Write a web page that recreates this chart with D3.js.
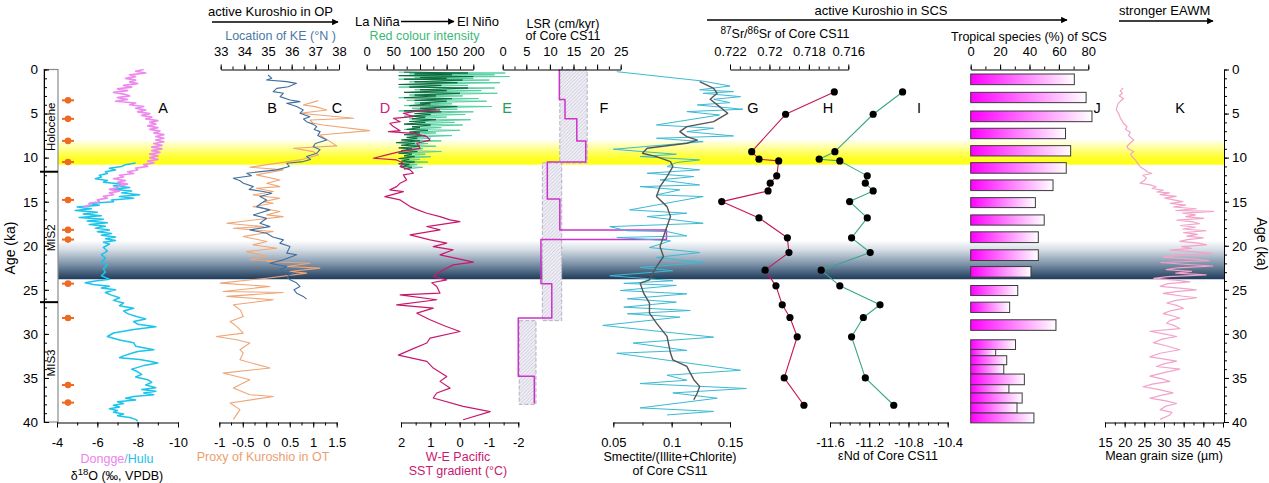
<!DOCTYPE html>
<html>
<head>
<meta charset="utf-8">
<script src="https://cdn.jsdelivr.net/npm/d3@7"></script>
<style>
  body { margin: 0; background: #fff; }
  svg text { font-family: Arial, "Liberation Sans", sans-serif; }
</style>
</head>
<body>
<svg id="chart" width="1269" height="483"></svg>
<script>
// ---- data (age in ka, value) ----
const yellowBand = [8.0, 10.8];
const lgmBand = [19.4, 23.8];
const stageBounds = [11.6, 26.4];
const stageNames = ["Holocene", "MIS2", "MIS3"];
const stageMid = [6.5, 19.1, 33.3];
const datingAges = [3.5, 5.6, 8.1, 10.5, 14.8, 18.2, 19.3, 24.3, 28.2, 35.8, 37.8];

// A: speleothem d18O
const dongge = [[0.0,-8.3],[0.2,-7.9],[0.4,-8.4],[0.6,-7.6],[0.8,-7.9],[1.0,-7.4],[1.2,-7.9],[1.4,-7.6],[1.6,-8.0],[1.8,-7.3],[2.0,-7.7],[2.2,-7.0],[2.4,-7.5],[2.6,-6.8],[2.8,-7.3],[3.0,-7.6],[3.2,-7.0],[3.4,-7.5],[3.6,-6.9],[3.8,-7.9],[4.0,-7.6],[4.2,-8.3],[4.4,-7.9],[4.6,-8.4],[4.8,-8.0],[5.0,-8.6],[5.2,-8.2],[5.4,-8.7],[5.6,-8.4],[5.8,-9.0],[6.0,-8.6],[6.2,-8.9],[6.4,-8.5],[6.6,-9.0],[6.8,-8.6],[7.0,-9.1],[7.2,-8.8],[7.4,-9.3],[7.6,-8.9],[7.8,-9.3],[8.0,-8.9],[8.2,-9.3],[8.4,-8.8],[8.6,-9.2],[8.8,-8.7],[9.0,-9.2],[9.2,-8.7],[9.4,-9.1],[9.6,-8.6],[9.8,-9.0],[10.0,-8.6],[10.2,-9.0],[10.4,-8.5],[10.6,-8.8],[10.8,-8.3],[11.0,-8.5],[11.2,-7.9],[11.4,-8.0],[11.6,-7.5],[11.8,-7.8],[12.0,-7.1],[12.2,-7.3],[12.4,-6.8],[12.6,-7.4],[12.8,-7.0],[13.0,-7.5],[13.2,-7.1],[13.4,-7.0],[13.6,-6.6],[13.8,-7.1],[14.0,-6.6],[14.2,-6.8],[14.4,-6.3],[14.6,-6.5],[14.8,-6.0],[15.0,-6.1],[15.2,-5.6],[15.4,-5.6],[15.6,-5.3]];
const hulu = [[10.6,-7.9],[10.8,-7.4],[11.0,-7.2],[11.2,-6.6],[11.4,-6.9],[11.6,-6.4],[11.8,-6.5],[12.0,-6.1],[12.2,-6.2],[12.4,-5.9],[12.6,-6.5],[12.8,-6.3],[13.0,-7.2],[13.2,-6.8],[13.4,-7.6],[13.6,-6.8],[13.8,-7.7],[14.0,-7.2],[14.2,-8.1],[14.4,-7.1],[14.6,-7.8],[14.8,-6.7],[15.0,-6.8],[15.2,-5.6],[15.4,-6.1],[15.6,-5.0],[15.8,-5.7],[16.0,-4.9],[16.2,-6.0],[16.4,-5.3],[16.6,-6.2],[16.8,-5.1],[17.0,-6.3],[17.2,-5.5],[17.4,-6.5],[17.6,-5.6],[17.8,-6.4],[18.0,-5.9],[18.2,-6.6],[18.4,-6.0],[18.6,-6.7],[18.8,-6.2],[19.0,-6.9],[19.2,-6.4],[19.4,-6.9],[19.6,-6.3],[19.8,-6.6],[20.2,-6.3],[20.6,-6.5],[21.0,-6.2],[21.4,-6.4],[21.8,-6.2],[22.2,-6.5],[22.6,-6.3],[23.0,-6.4],[23.4,-6.2],[23.8,-6.6],[24.0,-5.9],[24.2,-5.4],[24.4,-5.8],[24.6,-6.6],[24.8,-6.2],[25.0,-6.9],[25.3,-6.4],[25.6,-6.7],[25.9,-7.1],[26.2,-6.8],[26.5,-7.3],[26.8,-7.1],[27.1,-7.8],[27.4,-7.3],[27.7,-7.5],[28.0,-7.9],[28.3,-8.4],[28.6,-7.8],[28.9,-8.0],[29.2,-8.9],[29.5,-7.8],[29.9,-6.8],[30.3,-6.5],[30.7,-7.1],[31.0,-7.8],[31.4,-7.9],[31.8,-8.8],[32.0,-8.0],[32.2,-7.7],[32.5,-7.3],[32.7,-7.1],[32.9,-8.1],[33.1,-8.6],[33.3,-9.0],[33.6,-8.3],[34.0,-7.7],[34.3,-8.0],[34.6,-8.2],[34.9,-7.9],[35.2,-8.5],[35.5,-8.7],[35.8,-8.4],[36.1,-8.9],[36.3,-8.2],[36.5,-8.9],[36.7,-8.3],[36.9,-8.8],[37.1,-7.8],[37.3,-7.4],[37.5,-7.9],[37.7,-7.0],[37.9,-7.3],[38.1,-6.8],[38.3,-7.1],[38.5,-6.6],[38.7,-7.0],[38.9,-6.8],[39.1,-7.3],[39.3,-7.0],[39.5,-7.6],[39.7,-7.9],[39.9,-8.0]];

// B: Kuroshio Extension latitude (deg N)
const keLat = [[0.62,35.0],[1.0,35.16],[1.19,34.94],[1.38,35.79],[1.57,36.2],[1.95,35.86],[2.14,35.37],[2.51,35.22],[2.7,35.65],[3.08,35.51],[3.46,35.93],[3.65,36.35],[3.84,35.79],[4.21,36.21],[4.59,36.49],[4.97,36.35],[5.35,36.77],[5.62,36.5],[5.92,36.63],[6.2,36.9],[6.48,37.06],[6.8,36.95],[7.05,37.2],[7.5,37.1],[8.01,37.48],[8.4,37.0],[8.75,36.91],[9.1,37.2],[9.5,37.06],[9.88,36.63],[10.2,36.8],[10.45,36.49],[10.64,35.79],[11.0,35.9],[11.39,35.37],[11.77,34.1],[12.05,34.3],[12.34,33.53],[12.6,33.8],[12.9,33.96],[13.29,34.38],[13.6,34.2],[13.85,34.8],[14.04,35.16],[14.42,34.66],[14.8,34.94],[15.2,34.7],[15.56,34.52],[15.93,35.08],[16.5,34.38],[16.88,34.94],[17.45,34.66],[17.83,35.08],[18.2,34.24],[18.58,34.94],[19.0,35.2],[19.33,35.65],[19.7,35.5],[20.09,35.93],[20.84,35.79],[21.03,36.21],[21.6,35.65],[21.98,35.08],[22.36,35.79],[22.73,35.51],[23.11,36.07],[23.5,35.8],[23.87,35.93],[24.2,36.2],[24.62,36.35],[25.0,36.1],[25.38,36.21],[25.75,36.49],[26.05,36.63]];

// C: Kuroshio proxy in Okinawa Trough
const kuroOT = [[3.53,1.11],[4.02,0.79],[4.21,1.04],[4.59,1.29],[4.97,0.72],[5.54,1.86],[5.73,0.93],[6.1,1.0],[6.29,1.21],[6.94,2.2],[7.43,1.14],[8.67,1.5],[8.94,0.58],[9.32,1.0],[9.69,1.11],[10.26,0.72],[11.09,-0.35],[11.39,0.36],[11.96,-0.21],[12.53,0.29],[12.9,0.01],[13.29,0.29],[13.47,-0.21],[13.85,0.15],[14.23,-0.28],[14.61,0.29],[14.99,-0.06],[15.17,0.15],[15.56,-0.28],[16.12,0.29],[16.5,0.01],[16.69,0.36],[17.45,-0.84],[17.83,-0.06],[18.01,-0.7],[18.39,0.15],[18.95,-0.49],[19.52,0.01],[19.9,-0.28],[20.28,0.22],[20.66,-0.42],[21.22,0.01],[21.6,-0.35],[21.7,0.22],[21.79,0.01],[21.98,0.93],[22.36,0.44],[22.54,1.14],[22.92,0.5],[23.11,0.86],[23.68,0.01],[24.24,-0.98],[24.62,0.08],[25.19,-0.92],[25.3,0.36],[25.75,-0.84],[26.13,0.15],[26.7,-0.7],[27.3,-0.55],[28.02,-0.49],[28.59,-0.77],[29.15,-0.63],[29.91,-0.49],[30.29,-1.06],[30.67,-0.63],[31.04,-0.35],[31.8,-0.56],[32.18,-0.49],[32.94,-0.56],[33.88,0.08],[34.45,-0.92],[35.2,-0.35],[36.15,-0.7],[36.9,-0.35],[37.1,0.15],[37.85,-0.77],[38.6,-0.56],[39.7,-0.7]];

// D: W-E Pacific SST gradient (deg C)
const sstGrad = [[4.59,0.67],[4.67,1.35],[4.97,1.92],[5.35,1.58],[5.54,2.26],[5.92,2.03],[6.1,2.38],[6.48,2.26],[6.94,2.03],[7.05,2.43],[7.24,1.58],[7.62,1.12],[8.01,1.01],[8.37,1.46],[8.94,1.35],[9.32,2.03],[9.69,2.49],[10.07,2.94],[10.26,2.15],[10.64,1.92],[11.02,2.03],[11.39,1.69],[11.77,1.58],[11.96,1.92],[12.53,1.81],[12.9,2.03],[13.29,2.15],[13.66,2.38],[13.85,1.92],[14.42,2.55],[14.8,2.03],[15.56,1.69],[15.9,1.45],[16.31,1.12],[16.69,0.67],[17.07,0.33],[17.26,-0.01],[17.82,1.12],[18.2,0.67],[18.77,1.69],[19.33,1.01],[19.71,0.44],[20.09,0.9],[20.46,0.22],[21.03,0.67],[21.6,-0.12],[21.86,-0.47],[22.17,0.22],[22.8,0.6],[23.49,0.9],[23.87,0.44],[24.2,0.95],[24.62,0.78],[25.38,0.67],[25.57,2.03],[26.13,0.78],[26.7,2.15],[27.08,0.9],[27.65,1.46],[28.4,1.01],[29.1,0.5],[29.73,-0.01],[30.48,1.01],[31.04,1.12],[31.7,1.6],[32.41,2.09],[33.12,1.12],[33.88,0.9],[34.83,0.44],[35.39,0.67],[36.15,0.33],[36.71,0.78],[37.28,0.9],[38.22,-0.12],[38.83,-1.04],[39.74,-0.12]];

// E: red colour intensity (two records)
const redLight = [[0.3,60],[0.4,260],[0.5,80],[0.6,240],[0.7,70],[0.8,268],[0.9,90],[1.0,200],[1.1,60],[1.2,230],[1.4,80],[1.5,250],[1.7,70],[1.8,190],[2.0,60],[2.1,240],[2.3,90],[2.4,215],[2.6,70],[2.7,245],[2.9,80],[3.0,180],[3.2,60],[3.3,210],[3.5,75],[3.6,225],[3.8,90],[3.9,160],[4.1,70],[4.2,235],[4.4,85],[4.5,170],[4.7,60],[4.8,200],[5.0,90],[5.1,185],[5.3,70],[5.4,150],[5.6,80],[5.7,195],[5.9,90],[6.0,165],[6.2,75],[6.3,180],[6.5,85],[6.6,140],[6.8,70],[6.9,175],[7.1,90],[7.2,130],[7.4,75],[7.5,160],[7.7,80],[7.8,120],[8.0,70],[8.1,140],[8.3,60],[8.4,115],[8.6,75],[8.7,130],[8.9,65],[9.0,105],[9.2,70],[9.3,140],[9.5,60],[9.6,110],[9.8,75],[9.9,120],[10.1,60],[10.2,100],[10.4,70],[10.5,115],[10.7,60],[10.8,95],[11.0,65],[11.1,105],[11.3,70]];
const redDark = [[0.3,70],[0.4,190],[0.5,90],[0.6,160],[0.7,60],[0.8,200],[0.9,100],[1.0,150],[1.1,70],[1.2,180],[1.4,90],[1.5,170],[1.7,60],[1.8,140],[2.0,80],[2.1,190],[2.3,100],[2.4,150],[2.6,70],[2.7,175],[2.9,90],[3.0,130],[3.2,70],[3.3,160],[3.5,90],[3.6,150],[3.8,100],[3.9,120],[4.1,80],[4.2,170],[4.4,100],[4.5,130],[4.7,70],[4.8,140],[5.0,90],[5.1,120],[5.3,80],[5.4,110],[5.6,85],[5.7,130],[5.9,80],[6.0,110],[6.2,70],[6.3,120],[6.5,85],[6.6,100],[6.8,75],[6.9,115],[7.1,80],[7.2,100],[7.4,70],[7.5,110],[7.7,75],[7.8,95],[8.0,65],[8.1,100],[8.3,55],[8.4,90],[8.6,65],[8.7,100],[8.9,60],[9.0,85],[9.2,65],[9.3,95],[9.5,60],[9.6,85],[9.8,70],[9.9,90],[10.1,60],[10.2,80],[10.4,65],[10.5,90],[10.7,60],[10.8,80],[11.0,65],[11.1,85],[11.3,70]];

// F: linear sedimentation rate [top age, bottom age, cm/kyr] and its range
const lsrSteps = [[0,3.4,12.0],[3.4,5.6,13.2],[5.6,8.1,15.7],[8.1,10.5,17.6],[10.5,14.7,9.45],[14.7,18.2,12.1],[18.2,19.3,34.7],[19.3,24.3,8.1],[24.3,28.2,10.4],[28.2,34.8,3.3],[34.8,37.9,6.7]];
const lsrRange = [[0,10.6,12.1,17.9],[10.6,28.5,8.4,12.5],[28.5,38.0,3.5,7.05]];

// G: smectite/(illite+chlorite), raw and smoothed
const smectite = [[0.25,0.053],[1.3,0.126],[1.87,0.150],[2.3,0.124],[2.51,0.153],[2.7,0.127],[3.08,0.159],[3.38,0.136],[3.76,0.150],[4.02,0.122],[4.51,0.161],[4.78,0.113],[5.16,0.141],[6.29,0.087],[6.67,0.136],[7.05,0.113],[7.54,0.153],[7.8,0.087],[8.19,0.127],[9.05,0.050],[9.62,0.104],[9.88,0.073],[10.26,0.124],[10.56,0.104],[11.02,0.096],[11.39,0.124],[11.77,0.079],[12.15,0.119],[12.53,0.090],[13.1,0.124],[13.29,0.073],[13.66,0.107],[14.23,0.087],[14.42,0.127],[15.93,0.064],[16.31,0.113],[16.69,0.079],[17.45,0.127],[17.83,0.047],[18.3,0.062],[18.39,0.096],[18.88,0.113],[19.07,0.053],[19.44,0.099],[20.2,0.081],[20.77,0.124],[21.33,0.087],[21.9,0.127],[22.46,0.073],[22.83,0.101],[23.4,0.047],[23.97,0.101],[24.27,0.059],[24.5,0.104],[25.08,0.056],[25.46,0.113],[26.02,0.062],[26.4,0.104],[26.97,0.059],[27.35,0.116],[27.72,0.062],[28.1,0.107],[29.04,0.041],[30.37,0.136],[31.04,0.067],[31.88,0.113],[32.2,0.053],[34.13,0.159],[34.69,0.096],[35.26,0.113],[35.64,0.073],[36.2,0.164],[36.7,0.101],[37.3,0.139],[38.4,0.073],[38.8,0.136],[39.2,0.096]];
const smectiteSmooth = [[1.38,0.124],[2.14,0.136],[2.7,0.139],[3.38,0.133],[4.21,0.141],[4.97,0.148],[5.92,0.136],[6.48,0.113],[7.05,0.107],[7.62,0.113],[8.01,0.122],[8.37,0.113],[8.94,0.079],[9.5,0.075],[9.88,0.087],[10.45,0.099],[11.02,0.101],[12.15,0.096],[13.29,0.090],[14.42,0.087],[15.56,0.096],[16.69,0.099],[17.82,0.096],[18.58,0.094],[20.09,0.090],[21.22,0.093],[22.36,0.087],[23.11,0.084],[23.87,0.081],[24.24,0.073],[25.38,0.076],[26.52,0.081],[27.65,0.081],[28.78,0.087],[30.29,0.096],[32.18,0.099],[32.94,0.101],[33.69,0.113],[34.45,0.116],[35.2,0.119],[35.96,0.124],[36.71,0.122],[37.47,0.119]];

// H, I: Sr and Nd isotopes of Core CS11
const isoAge = [2.55,5.08,9.32,10.18,10.37,12.07,12.9,13.78,14.99,16.84,19.1,20.77,22.77,24.55,26.7,28.14,30.33,35.0,38.1];
const srRatio = [0.71671,0.71918,0.7209,0.72053,0.71953,0.71963,0.71996,0.72007,0.72242,0.72053,0.71909,0.71901,0.72022,0.71967,0.71935,0.71896,0.71859,0.71925,0.71825];
const epsNd = [-10.86,-11.16,-11.55,-11.71,-11.50,-11.22,-11.24,-11.16,-11.40,-11.22,-11.38,-11.19,-11.69,-11.50,-11.09,-11.26,-11.38,-11.24,-10.95];

// J: tropical species (%)
const tropTop = [0.51,2.59,4.71,6.67,8.64,10.57,12.53,14.54,16.5,18.42,20.46,22.36,24.51,26.4,28.4,30.67,31.77,32.48,33.5,34.56,35.77,36.71,37.85,38.98];
const tropBase = [1.72,3.76,5.92,7.85,9.81,11.77,13.74,15.67,17.66,19.64,21.68,23.56,25.65,27.57,29.6,31.77,32.48,33.5,34.56,35.77,36.71,37.85,38.98,40.1];
const tropPct = [70.5,78.5,82.5,64.5,68,65,56,44,50,46,46,41,32,26.5,58,30.5,17,24.5,22.5,36.5,26,35,31.5,43];

// K: mean grain size (um)
const grainSize = [[2.1,19.6],[2.4,18.9],[2.7,19.4],[3.0,18.6],[3.3,19.7],[3.6,18.9],[3.9,18.3],[4.3,18.0],[4.6,17.9],[5.0,18.5],[5.5,18.9],[5.8,19.3],[6.1,19.7],[6.5,20.6],[6.8,20.2],[7.1,21.4],[7.5,21.0],[8.0,22.3],[8.4,21.3],[8.7,20.6],[9.0,20.9],[9.3,22.3],[9.6,21.5],[9.9,21.9],[10.2,22.6],[10.5,23.1],[10.8,23.5],[11.1,24.1],[11.4,25.2],[11.6,25.7],[11.8,26.9],[12.0,24.6],[12.3,25.5],[12.6,25.0],[12.9,23.9],[13.1,26.5],[13.3,28.0],[13.5,27.0],[13.7,29.8],[13.9,28.2],[14.0,31.4],[14.2,29.0],[14.4,33.1],[14.6,30.2],[14.8,32.4],[15.0,34.8],[15.2,31.6],[15.4,35.5],[15.6,32.4],[15.8,38.2],[16.0,33.0],[16.1,42.6],[16.3,34.8],[16.5,38.0],[16.7,35.5],[16.9,40.1],[17.1,33.3],[17.3,37.5],[17.5,39.0],[17.7,34.2],[17.9,38.0],[18.1,34.8],[18.3,40.7],[18.5,35.0],[18.7,38.5],[18.9,35.8],[19.1,40.0],[19.3,36.0],[19.5,34.0],[19.7,38.8],[19.9,40.8],[20.1,34.5],[20.3,37.0],[20.5,31.5],[20.7,38.0],[20.9,42.4],[21.1,33.0],[21.3,29.8],[21.5,36.5],[21.7,41.5],[21.9,29.2],[22.1,35.0],[22.3,42.4],[22.5,33.5],[22.7,30.6],[22.9,37.0],[23.1,33.0],[23.3,40.7],[23.5,31.0],[23.7,27.4],[23.9,33.0],[24.1,36.6],[24.3,31.0],[24.6,29.0],[24.8,34.0],[25.0,38.2],[25.2,33.0],[25.4,29.8],[25.7,34.5],[25.9,38.3],[26.2,33.0],[26.5,30.7],[26.8,33.5],[27.1,34.9],[27.4,31.5],[27.7,29.8],[28.0,32.5],[28.2,34.0],[28.5,31.5],[28.8,30.7],[29.1,32.8],[29.4,34.0],[29.7,26.4],[30.0,30.0],[30.3,33.2],[30.6,29.5],[31.0,27.3],[31.4,31.0],[31.8,34.0],[32.2,29.0],[32.6,26.4],[32.9,30.5],[33.1,33.2],[33.4,30.0],[33.7,28.1],[34.0,34.0],[34.4,30.0],[34.8,26.4],[35.1,29.5],[35.4,31.5],[35.7,27.0],[36.0,24.7],[36.3,28.5],[36.7,32.3],[37.0,29.0],[37.3,26.4],[37.6,30.5],[37.9,33.2],[38.2,30.5],[38.6,29.0],[38.9,32.0],[39.2,31.5],[39.5,30.0],[39.7,29.0]];

// axis tick values
const ageMajor = [0, 5, 10, 15, 20, 25, 30, 35, 40];
const ageMinor = d3.range(0, 41, 1);
const srMajor = [0.722, 0.72, 0.718, 0.716];
const srMinor = [0.722,0.7215,0.721,0.7205,0.72,0.7195,0.719,0.7185,0.718,0.7175,0.717,0.7165,0.716];

// ---- layout ----
const svg = d3.select("#chart");
const defs = svg.append("defs");
const FONT = "Arial, 'Liberation Sans', sans-serif";

const y = d3.scaleLinear().domain([0, 40]).range([69.5, 422]);
const topY = 69.5, botY = 422.5;
const leftAxisX = 44, rightAxisX = 1224, bandX0 = 58;

const xA   = d3.scaleLinear().domain([-4, -10]).range([57, 178]);
const xB   = d3.scaleLinear().domain([33, 38]).range([220.7, 339]);
const xC   = d3.scaleLinear().domain([-1, 1.5]).range([219.3, 336.7]);
const xD   = d3.scaleLinear().domain([2, -2]).range([401, 518.3]);
const xE   = d3.scaleLinear().domain([0, 200]).range([366.7, 473.3]);
const xLSR = d3.scaleLinear().domain([0, 25]).range([502.7, 620.7]);
const xSm  = d3.scaleLinear().domain([0.05, 0.15]).range([613.3, 730]);
const xSr  = d3.scaleLinear().domain([0.722, 0.716]).range([730, 848.3]);
const xNd  = d3.scaleLinear().domain([-11.6, -10.4]).range([830, 947.7]);
const xTr  = d3.scaleLinear().domain([0, 80]).range([970.7, 1088.3]);
const xK   = d3.scaleLinear().domain([15, 45]).range([1105, 1223]);

// ---- gradients, patterns, markers ----
function vGrad(id, stops, horizontal) {
  const g = defs.append("linearGradient").attr("id", id)
    .attr("x1", 0).attr("y1", 0).attr("x2", horizontal ? 1 : 0).attr("y2", horizontal ? 0 : 1);
  stops.forEach(s => g.append("stop").attr("offset", s[0]).attr("stop-color", s[1]));
}
vGrad("gYellow", [[0, "#fffff4"], [0.35, "#ffff90"], [0.7, "#ffff30"], [1, "#ffff10"]]);
vGrad("gLgm", [[0, "#ffffff"], [0.25, "#d3dbe3"], [0.6, "#7f95ab"], [1, "#1e3b5a"]]);
vGrad("gTrop", [[0, "#ff00ff"], [1, "#ffffff"]], true);

const hatch = defs.append("pattern").attr("id", "hatch")
  .attr("patternUnits", "userSpaceOnUse").attr("width", 3.5).attr("height", 3.5);
hatch.append("rect").attr("width", 3.5).attr("height", 3.5).attr("fill", "#efedf5");
hatch.append("path").attr("d", "M-1,1 l2,-2 M0,3.5 l3.5,-3.5 M2.5,4.5 l2,-2")
  .attr("stroke", "#aeacbc").attr("stroke-width", 0.5);

defs.append("marker").attr("id", "arrow").attr("viewBox", "0 0 10 10")
  .attr("refX", 9).attr("refY", 5).attr("markerWidth", 7).attr("markerHeight", 5)
  .attr("orient", "auto")
  .append("path").attr("d", "M0,0 L10,5 L0,10 z").attr("fill", "#000");

// ---- bands ----
[[yellowBand, "url(#gYellow)"], [lgmBand, "url(#gLgm)"]].forEach(([b, fill]) => {
  svg.append("rect").attr("x", bandX0).attr("y", y(b[0]))
    .attr("width", rightAxisX - bandX0).attr("height", y(b[1]) - y(b[0]))
    .attr("fill", fill);
});

// LSR range boxes
svg.selectAll(".lsrbox").data(lsrRange).enter().append("rect")
  .attr("x", d => xLSR(d[2])).attr("y", d => y(d[0]))
  .attr("width", d => xLSR(d[3]) - xLSR(d[2])).attr("height", d => y(d[1]) - y(d[0]))
  .attr("fill", "url(#hatch)").attr("stroke", "#b4b2c0").attr("stroke-width", 1)
  .attr("stroke-dasharray", "4,2");

// ---- lines ----
function drawLine(data, xs, color, width) {
  svg.append("path").datum(data)
    .attr("d", d3.line().x(d => xs(d[1])).y(d => y(d[0])))
    .attr("fill", "none").attr("stroke", color)
    .attr("stroke-width", width).attr("stroke-linejoin", "round");
}

drawLine(hulu, xA, "#1cc3ea", 1.5);
drawLine(dongge, xA, "#ee8aee", 1.7);
drawLine(kuroOT, xC, "#eea676", 1.1);
drawLine(keLat, xB, "#3f6f9f", 1.1);
drawLine(redLight, xE, "#55cfa2", 1);
drawLine(redDark, xE, "#0c6a3a", 1);
drawLine(sstGrad, xD, "#c8186e", 1.2);

const lsrPts = [];
lsrSteps.forEach(s => { lsrPts.push([s[0], s[2]]); lsrPts.push([s[1], s[2]]); });
drawLine(lsrPts, xLSR, "#cc33cc", 1.5);

drawLine(smectite, xSm, "#3bbad4", 1);
drawLine(smectiteSmooth, xSm, "#555555", 1.4);

const srPts = isoAge.map((a, i) => [a, srRatio[i]]);
const ndPts = isoAge.map((a, i) => [a, epsNd[i]]);
drawLine(srPts, xSr, "#c2185b", 1.1);
drawLine(ndPts, xNd, "#3aa68a", 1.1);
[[srPts, xSr], [ndPts, xNd]].forEach(([pts, xs]) => {
  svg.append("g").selectAll("circle").data(pts).enter().append("circle")
    .attr("cx", d => xs(d[1])).attr("cy", d => y(d[0])).attr("r", 3.6).attr("fill", "#000");
});

// J bars
svg.append("g").selectAll("rect").data(tropPct).enter().append("rect")
  .attr("x", xTr(0)).attr("y", (d, i) => y(tropTop[i]))
  .attr("width", d => xTr(d) - xTr(0))
  .attr("height", (d, i) => y(tropBase[i]) - y(tropTop[i]))
  .attr("fill", "url(#gTrop)").attr("stroke", "#3a3a3a").attr("stroke-width", 1);

drawLine(grainSize, xK, "#f2a3c9", 1.2);

// ---- stage column and dating points ----
svg.append("rect").attr("x", leftAxisX).attr("y", topY).attr("width", bandX0 - leftAxisX)
  .attr("height", y(40) - topY).attr("fill", "#fff").attr("stroke", "#8a8a8a").attr("stroke-width", 1.2);
stageBounds.forEach(a => svg.append("line").attr("x1", 40).attr("x2", bandX0)
  .attr("y1", y(a)).attr("y2", y(a)).attr("stroke", "#000").attr("stroke-width", 2));
stageNames.forEach((n, i) => svg.append("text")
  .attr("transform", `translate(${(leftAxisX + bandX0) / 2 + 4},${y(stageMid[i])}) rotate(-90)`)
  .attr("text-anchor", "middle").attr("font-size", 11.5).text(n));

const dg = svg.append("g");
datingAges.forEach(a => {
  dg.append("line").attr("x1", 62).attr("x2", 74).attr("y1", y(a)).attr("y2", y(a))
    .attr("stroke", "#ee6a22").attr("stroke-width", 2);
  dg.append("circle").attr("cx", 68).attr("cy", y(a)).attr("r", 3.3).attr("fill", "#ee6a22");
});

// ---- axes ----
function styleAxis(g) {
  g.selectAll("text").attr("font-size", 13).attr("fill", "#000").style("font-family", FONT);
  g.selectAll("line, path").attr("stroke", "#000");
}
function hAxis(scale, yPos, orient, major, minor, fmt) {
  const mk = orient === "top" ? d3.axisTop : d3.axisBottom;
  const gMin = svg.append("g").attr("transform", `translate(0,${yPos})`)
    .call(mk(scale).tickValues(minor).tickSizeInner(3).tickSizeOuter(0).tickFormat(""));
  const gMaj = svg.append("g").attr("transform", `translate(0,${yPos})`)
    .call(mk(scale).tickValues(major).tickSizeInner(5).tickSizeOuter(0)
      .tickPadding(orient === "top" ? 9 : 10).tickFormat(fmt));
  gMaj.select(".domain").remove();
  styleAxis(gMin); styleAxis(gMaj);
}
const f = d => String(d);
hAxis(xB, topY, "top", [33, 34, 35, 36, 37, 38], d3.range(33, 38.01, 0.5), f);
hAxis(xE, topY, "top", [0, 50, 100, 150, 200], d3.range(0, 201, 25), f);
hAxis(xLSR, topY, "top", [0, 5, 10, 15, 20, 25], d3.range(0, 25.01, 2.5), f);
hAxis(xSr, topY, "top", srMajor, srMinor, d => d === 0.72 ? "0.72" : d.toFixed(3));
hAxis(xTr, topY, "top", [0, 20, 40, 60, 80], d3.range(0, 81, 10), f);

hAxis(xA, botY, "bottom", [-4, -6, -8, -10], d3.range(-4, -10.01, -1), f);
hAxis(xC, botY, "bottom", [-1, -0.5, 0, 0.5, 1, 1.5], d3.range(-1, 1.51, 0.25), f);
hAxis(xD, botY, "bottom", [2, 1, 0, -1, -2], d3.range(2, -2.01, -0.5), f);
hAxis(xSm, botY, "bottom", [0.05, 0.1, 0.15], [0.05, 0.075, 0.1, 0.125, 0.15], f);
hAxis(xNd, botY, "bottom", [-11.6, -11.2, -10.8, -10.4],
  d3.range(0, 13).map(i => -11.6 + i * 0.1), d => d.toFixed(1));
hAxis(xK, botY, "bottom", [15, 20, 25, 30, 35, 40, 45], d3.range(15, 45.01, 2.5), f);

// age axes
const gLmin = svg.append("g").attr("transform", `translate(${leftAxisX},0)`)
  .call(d3.axisLeft(y).tickValues(ageMinor).tickSizeInner(-3).tickSizeOuter(0).tickFormat(""));
const gLmaj = svg.append("g").attr("transform", `translate(${leftAxisX},0)`)
  .call(d3.axisLeft(y).tickValues(ageMajor).tickSizeInner(-5).tickSizeOuter(0).tickPadding(6));
gLmaj.select(".domain").remove();
styleAxis(gLmin); styleAxis(gLmaj);
gLmaj.selectAll("text").attr("font-size", 13.5);

const gRmin = svg.append("g").attr("transform", `translate(${rightAxisX},0)`)
  .call(d3.axisRight(y).tickValues(ageMinor).tickSizeInner(3).tickSizeOuter(0).tickFormat(""));
const gRmaj = svg.append("g").attr("transform", `translate(${rightAxisX},0)`)
  .call(d3.axisRight(y).tickValues(ageMajor).tickSizeInner(5).tickSizeOuter(0).tickPadding(3));
gRmaj.select(".domain").remove();
styleAxis(gRmin); styleAxis(gRmaj);
gRmaj.selectAll("text").attr("font-size", 13.5);

// ---- texts ----
function txt(x, yy, s, opts = {}) {
  return svg.append("text").attr("x", x).attr("y", yy)
    .attr("text-anchor", opts.anchor || "middle")
    .attr("font-size", opts.size || 12.5)
    .attr("fill", opts.color || "#000").text(s);
}
svg.append("text").attr("transform", "translate(15,248) rotate(-90)")
  .attr("text-anchor", "middle").attr("font-size", 14).text("Age (ka)");
svg.append("text").attr("transform", "translate(1257,244) rotate(90)")
  .attr("text-anchor", "middle").attr("font-size", 14).text("Age (ka)");

// header arrows
function arrow(x1, x2, yy) {
  svg.append("line").attr("x1", x1).attr("x2", x2).attr("y1", yy).attr("y2", yy)
    .attr("stroke", "#000").attr("stroke-width", 1.3).attr("marker-end", "url(#arrow)");
}
txt(208, 16, "active Kuroshio in OP", { anchor: "start", size: 13 });
arrow(212, 338, 22);
txt(355, 26, "La Niña", { anchor: "start", size: 13 });
arrow(401, 454, 21.5);
txt(457, 26, "El Niño", { anchor: "start", size: 13 });
txt(881, 15, "active Kuroshio in SCS", { size: 13 });
arrow(707, 1067, 20);
txt(1119, 15, "stronger EAWM", { anchor: "start", size: 13 });
arrow(1119, 1213, 21);

txt(280.5, 39.5, "Location of KE (°N )", { color: "#4a78a8" });
txt(424.5, 39.5, "Red colour intensity", { color: "#3cb878" });
txt(563, 27.5, "LSR (cm/kyr)");
txt(563, 39.5, "of Core CS11");
const sr = txt(785, 38, "");
sr.append("tspan").attr("dy", -4).attr("font-size", 10).text("87");
sr.append("tspan").attr("dy", 4).text("Sr/");
sr.append("tspan").attr("dy", -4).attr("font-size", 10).text("86");
sr.append("tspan").attr("dy", 4).text("Sr of Core CS11");
txt(1029, 40.5, "Tropical species (%) of SCS");

// bottom titles
const dh = txt(117, 462.5, "");
dh.append("tspan").attr("fill", "#ee82ee").text("Dongge");
dh.append("tspan").attr("fill", "#7fa6d8").text("/");
dh.append("tspan").attr("fill", "#22c0e8").text("Hulu");
const d18 = txt(117, 479.5, "δ");
d18.append("tspan").attr("dy", -5).attr("font-size", 9.5).text("18");
d18.append("tspan").attr("dy", 5).text("O (‰, VPDB)");
txt(263, 460.5, "Proxy of Kuroshio in OT", { color: "#eba072" });
txt(458, 460.5, "W-E Pacific", { color: "#c8186e" });
txt(458, 475, "SST gradient (°C)", { color: "#c8186e" });
txt(670, 460.5, "Smectite/(Illite+Chlorite)");
txt(670, 475, "of Core CS11");
txt(888, 459.5, "εNd of Core CS11");
txt(1164, 459.5, "Mean grain size (µm)");

// panel letters
const letters = [["A", 163, "#000"], ["B", 272, "#000"], ["C", 337, "#000"], ["D", 385, "#d0207a"],
  ["E", 507, "#2e9a5a"], ["F", 604, "#000"], ["G", 753, "#000"], ["H", 828, "#000"],
  ["I", 919, "#000"], ["J", 1097, "#000"], ["K", 1180, "#000"]];
letters.forEach(l => txt(l[1], 113, l[0], { size: 14.5, color: l[2] }));
</script>
</body>
</html>
